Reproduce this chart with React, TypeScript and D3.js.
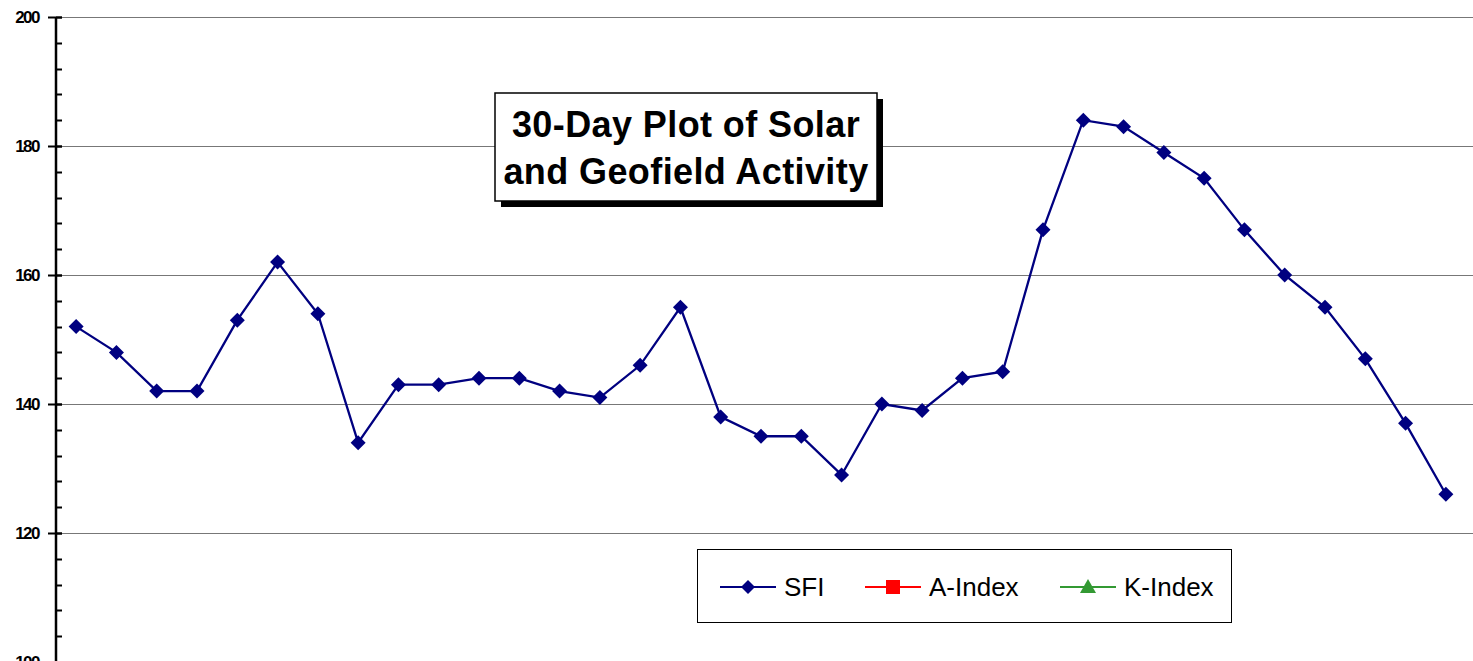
import * as d3 from "d3";

const days = d3.range(1, 36).map(d => `D${d}`);
const sfi = [152, 148, 142, 142, 153, 162, 154, 134, 143, 143, 144, 144, 142, 141, 146, 155, 138, 135, 135, 129, 140, 139, 144, 145, 167, 184, 183, 179, 175, 167, 160, 155, 147, 137, 126];
const yTicks = [100, 120, 140, 160, 180, 200];
const titleLines = ["30-Day Plot of Solar", "and Geofield Activity"];
const legendItems = [
    { name: "SFI", color: "#000080", shape: "diamond" },
    { name: "A-Index", color: "#ff0000", shape: "square" },
    { name: "K-Index", color: "#339933", shape: "triangle" },
];

const W = 1473;
const H = 661;

const App = () => {
    const axisX = 56;
    const x = d3.scalePoint<string>().domain(days).range([axisX, 1466]).padding(0.5);
    const y = d3.scaleLinear().domain([100, 200]).range([662, 17]);
    const minorTicks = d3.range(100, 201, 4);
    const py = (v: number) => Math.round(y(v)) + 0.5;

    const line = d3.line<number>()
        .x((_, i) => x(days[i]) as number)
        .y(d => y(d));

    const diamond = (cx: number, cy: number, r: number) =>
        `M${cx},${cy - r}L${cx + r},${cy}L${cx},${cy + r}L${cx - r},${cy}Z`;

    const legendX = [720, 865, 1060];
    const legendY = 587;

    return (
        <svg width={W} height={H} style={{ position: "fixed", left: 0, top: 0, background: "#fff" }}
            fontFamily="'Liberation Sans', Arial, sans-serif">
            {/* grid */}
            {yTicks.map(t => (
                <line key={t} x1={axisX} x2={W} y1={py(t)} y2={py(t)} stroke="#777" strokeWidth={1} />
            ))}
            {/* axis */}
            <line x1={axisX} x2={axisX} y1={y(200)} y2={H} stroke="#000" strokeWidth={2.5} />
            {minorTicks.map(t => (
                <line key={t} x1={axisX} x2={62} y1={py(t)} y2={py(t)} stroke="#000" strokeWidth={2} />
            ))}
            {yTicks.map(t => (
                <g key={t}>
                    <line x1={48} x2={62} y1={py(t)} y2={py(t)} stroke="#000" strokeWidth={2} />
                    <text x={39} y={y(t)} dy="0.36em" textAnchor="end" fontSize={17} fontWeight="bold" letterSpacing={-1.5}>{t}</text>
                </g>
            ))}
            {/* SFI series */}
            <path d={line(sfi) || ""} fill="none" stroke="#000080" strokeWidth={2.3} />
            {sfi.map((v, i) => (
                <path key={i} d={diamond(x(days[i]) as number, y(v), 7.5)} fill="#000080" />
            ))}
            {/* title box */}
            <rect x={501} y={99} width={382} height={108} fill="#000" />
            <rect x={495} y={93} width={382} height={108} fill="#fff" stroke="#000" strokeWidth={1.5} />
            {titleLines.map((t, i) => (
                <text key={i} x={686} y={137 + i * 47} textAnchor="middle" fontSize={36} fontWeight="bold" letterSpacing={0.4}>{t}</text>
            ))}
            {/* legend */}
            <rect x={697.5} y={549.5} width={534} height={73} fill="#fff" stroke="#000" strokeWidth={1} />
            {legendItems.map((it, i) => {
                const lx = legendX[i];
                const cx = lx + 28;
                return (
                    <g key={it.name}>
                        <line x1={lx} x2={lx + 56} y1={legendY} y2={legendY} stroke={it.color} strokeWidth={2} />
                        {it.shape === "diamond" && <path d={diamond(cx, legendY, 7)} fill={it.color} />}
                        {it.shape === "square" && <rect x={cx - 7} y={legendY - 7} width={14} height={14} fill={it.color} />}
                        {it.shape === "triangle" && <path d={`M${cx},${legendY - 8}L${cx + 8},${legendY + 6}L${cx - 8},${legendY + 6}Z`} fill={it.color} />}
                        <text x={lx + 64} y={legendY} dy="0.36em" fontSize={26}>{it.name}</text>
                    </g>
                );
            })}
        </svg>
    );
};

export default App;
